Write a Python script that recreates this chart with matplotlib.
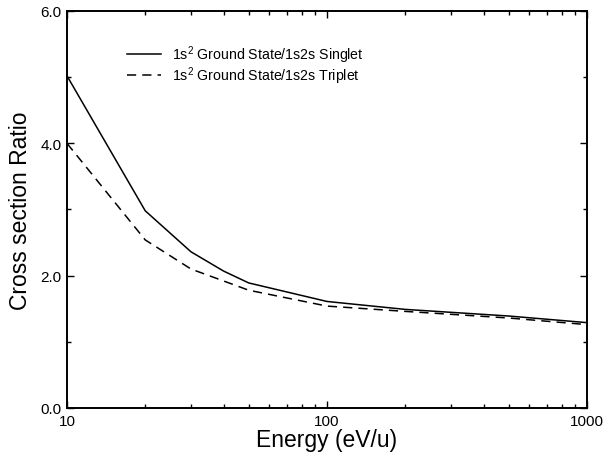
import matplotlib
matplotlib.use("Agg")
import matplotlib.pyplot as plt
from matplotlib.ticker import FixedLocator, NullFormatter, LogLocator

plt.rcParams['font.family'] = ['Liberation Sans', 'DejaVu Sans']
plt.rcParams['mathtext.fontset'] = 'custom'
plt.rcParams['mathtext.rm'] = 'Liberation Sans'
plt.rcParams['mathtext.it'] = 'Liberation Sans'

energy = [10, 20, 30, 40, 50, 100, 200, 500, 1000]
singlet = [5.02, 2.98, 2.36, 2.07, 1.89, 1.61, 1.49, 1.39, 1.29]
triplet = [4.00, 2.54, 2.10, 1.92, 1.78, 1.54, 1.46, 1.36, 1.26]
labels = [r"1s$^2$ Ground State/1s2s Singlet", r"1s$^2$ Ground State/1s2s Triplet"]
yticks = [0.0, 2.0, 4.0, 6.0]
ytick_labels = ["0.0", "2.0", "4.0", "6.0"]
xticks = [10, 100, 1000]
xtick_labels = ["10", "100", "1000"]

fig = plt.figure(figsize=(6.05, 4.56), dpi=100)
ax = fig.add_axes([0.1107, 0.1031, 0.8595, 0.8706])

ax.plot(energy, singlet, color='black', lw=1.1, ls='-', label=labels[0])
ax.plot(energy, triplet, color='black', lw=1.1, ls=(0, (6, 4)), label=labels[1])

ax.set_xscale('log')
ax.set_xlim(10, 1000)
ax.set_ylim(0, 6)
ax.set_xticks(xticks)
ax.set_xticklabels(xtick_labels)
ax.xaxis.set_minor_locator(LogLocator(base=10, subs=range(2, 10)))
ax.xaxis.set_minor_formatter(NullFormatter())
ax.set_yticks(yticks)
ax.set_yticklabels(ytick_labels)
ax.yaxis.set_minor_locator(FixedLocator([1.0, 3.0, 5.0]))

ax.tick_params(which='both', direction='in', top=True, right=True, labelsize=11, width=1.0)
ax.tick_params(which='major', length=5)
ax.tick_params(which='minor', length=3)
ax.tick_params(axis='x', pad=4)
ax.tick_params(axis='y', pad=4)
for s in ax.spines.values():
    s.set_linewidth(1.4)

ax.set_xlabel("Energy (eV/u)", fontsize=16.5, labelpad=0)
ax.set_ylabel("Cross section Ratio", fontsize=16.5, labelpad=6)

ax.legend(loc='upper left', bbox_to_anchor=(0.115, 0.919), frameon=False,
          fontsize=10.2, handlelength=2.4, handletextpad=0.8, labelspacing=-0.05,
          borderpad=0, borderaxespad=0)

fig.savefig("out.png", dpi=100)
